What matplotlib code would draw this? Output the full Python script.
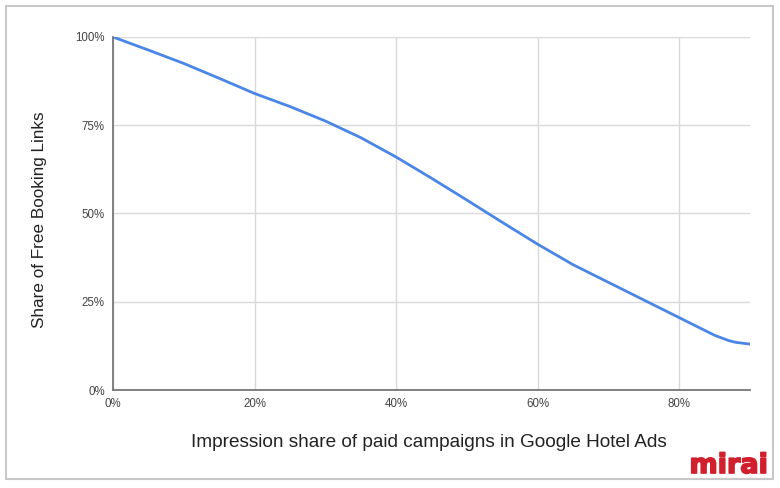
import matplotlib.pyplot as plt
import matplotlib.patheffects as pe
from matplotlib.patches import Rectangle
from matplotlib.ticker import FuncFormatter

# impression share of paid campaigns (%) vs share of free booking links (%)
paid_share = [0, 5, 10, 15, 20, 25, 30, 35, 40, 45, 50, 55, 60, 65, 70, 75, 80, 85, 87, 88, 90]
free_share = [100, 96.3, 92.5, 88.3, 84, 80.3, 76.2, 71.5, 66, 60, 53.8, 47.5, 41.3,
              35.5, 30.5, 25.5, 20.5, 15.5, 14, 13.5, 13]
x_ticks = [0, 20, 40, 60, 80]
y_ticks = [0, 25, 50, 75, 100]

plt.rcParams['font.family'] = ['Liberation Sans', 'DejaVu Sans']

fig = plt.figure(figsize=(7.8, 4.88), dpi=100)
ax = fig.add_axes([0.1449, 0.2008, 0.8166, 0.7234])

ax.plot(paid_share, free_share, color='#4a86e8', lw=2, solid_capstyle='round')

ax.set_xlim(0, 90)
ax.set_ylim(0, 100)
ax.set_xticks(x_ticks)
ax.set_yticks(y_ticks)
pct = FuncFormatter(lambda v, p: f'{v:.0f}%')
ax.xaxis.set_major_formatter(pct)
ax.yaxis.set_major_formatter(pct)
ax.tick_params(length=0, labelsize=8.3, colors='#444444', pad=6)
ax.grid(True, color='#d9d9d9', lw=1)
ax.set_axisbelow(True)
for s in ['top', 'right']:
    ax.spines[s].set_visible(False)
for s in ['left', 'bottom']:
    ax.spines[s].set_color('#777777')
    ax.spines[s].set_linewidth(1.3)

ax.set_ylabel('Share of Free Booking Links', fontsize=12.3, color='#222222', va='center')
ax.yaxis.set_label_coords(-0.1153, 0.4816)
ax.set_xlabel('Impression share of paid campaigns in Google Hotel Ads', fontsize=13.7,
              color='#222222', va='center')
ax.xaxis.set_label_coords(0.496, -0.150)

# grey frame round the whole picture
fig.patches.append(Rectangle((6 / 780, 1 - 479 / 488), 767 / 780, 473 / 488,
                             transform=fig.transFigure, fill=False,
                             edgecolor='#c8c8c8', lw=1.5))

# logo, thickened a bit with a stroke
fig.text(0.9846, 0.0307, 'mirai', color='#d21f2d', fontsize=19.5, fontweight='bold',
         family='DejaVu Sans', ha='right', va='baseline',
         path_effects=[pe.withStroke(linewidth=1.2, foreground='#d21f2d')])

fig.savefig('out.png', dpi=100)
